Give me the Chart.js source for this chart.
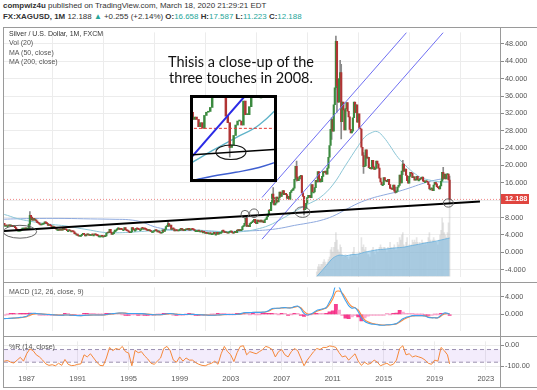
<!DOCTYPE html>
<html><head><meta charset="utf-8">
<script src="https://cdn.jsdelivr.net/npm/chart.js@4.4.1/dist/chart.umd.min.js"></script>
<style>
html,body{margin:0;padding:0;background:#fff;}
body{width:537px;height:390px;position:relative;overflow:hidden;font-family:"Liberation Sans",Arial,sans-serif;}
canvas{position:absolute;display:block;}
.t{position:absolute;white-space:nowrap;line-height:1;color:#333;font-size:7.95px;}
.ln{position:absolute;background:#9a9a9a;}
.g{color:#26a69a;}
.lg{position:absolute;font-size:7px;color:#555;white-space:nowrap;line-height:1;}
.note{position:absolute;font-family:Lato,"Liberation Sans",sans-serif;font-size:14.5px;color:#111;white-space:nowrap;line-height:1;text-align:center;width:200px;left:141px;}
</style></head><body>
<div class="t" style="left:3px;top:2px;"><b>compwiz4u</b> published on TradingView.com, March 18, 2020 21:29:21 EDT</div>
<div class="t" style="left:3px;top:13px;"><b>FX:XAGUSD, 1M</b> 12.188 <span class="g">▲</span> +0.255 (+2.14%) <b>O:</b><span class="g">16.658</span> <b>H:</b><span class="g">17.587</span> <b>L:</b><span class="g">11.223</span> <b>C:</b><span class="g">12.188</span></div>

<canvas id="main" width="533" height="255" style="left:4px;top:27px"></canvas>
<canvas id="macd" width="533" height="54" style="left:4px;top:282px"></canvas>
<canvas id="pr" width="533" height="52" style="left:4px;top:336px"></canvas>

<div class="ln" style="left:3px;top:27px;width:534px;height:1px"></div>
<div class="ln" style="left:3px;top:27px;width:1px;height:361px"></div>
<div class="ln" style="left:500px;top:27px;width:1px;height:361px"></div>
<div class="ln" style="left:3px;top:282px;width:534px;height:1px"></div>
<div class="ln" style="left:3px;top:336px;width:534px;height:1px"></div>
<div class="ln" style="left:3px;top:387px;width:534px;height:1px"></div>

<div class="lg" style="left:9px;top:30px;color:#333">Silver / U.S. Dollar, 1M, FXCM</div>
<div class="lg" style="left:9px;top:39px;">Vol (20)</div>
<div class="lg" style="left:9px;top:48.5px;">MA (50, close)</div>
<div class="lg" style="left:9px;top:58px;">MA (200, close)</div>
<div class="lg" style="left:9px;top:288px;">MACD (12, 26, close, 9)</div>
<div class="lg" style="left:9px;top:343px;">%R (14, close)</div>

<div class="note" style="top:55px;">Thisis a close-up of the</div>
<div class="note" style="top:71px;">three touches in 2008.</div>

<div style="position:absolute;left:190px;top:95px;width:81px;height:81px;border:3px solid #000;background:#fff;"></div>
<canvas id="inset" width="81" height="81" style="left:193px;top:98px"></canvas>

<script>
// ---------------- DATA ----------------
const START_YEAR = 1985;            // first monthly candle: Jan 1985
const closes = [
 6.2,5.9,6.7,6.2,6.2,6.1,6.1,6.3,6.1,6.2,6.0,5.9,
 6.0,5.7,5.3,5.1,5.1,5.1,5.1,5.3,5.6,5.6,5.6,5.4,
 5.5,5.5,6.5,8.5,8.1,7.4,7.8,7.4,7.5,7.2,6.8,6.7,
 6.5,6.3,6.4,6.5,6.6,7.0,6.7,6.6,6.2,6.3,6.2,6.0,
 5.8,5.9,5.7,5.7,5.3,5.3,5.3,5.1,5.2,5.1,5.5,5.2,
 5.3,5.2,5.0,5.0,5.1,4.9,4.9,4.8,4.7,4.3,4.2,4.2,
 3.9,3.7,3.9,3.9,4.1,4.4,4.1,3.8,4.1,4.0,4.1,3.9,
 4.1,4.1,4.0,4.0,4.1,4.0,3.9,3.8,3.8,3.8,3.8,3.7,
 3.7,3.6,3.8,4.4,4.6,4.5,5.3,4.6,4.1,4.3,4.7,5.1,
 5.1,5.4,5.6,5.3,5.5,5.3,5.2,5.2,5.7,5.2,5.0,4.9,
 4.7,4.5,4.7,5.7,5.4,5.1,5.1,5.5,5.4,5.3,5.2,5.2,
 5.6,5.5,5.5,5.4,5.3,5.1,5.0,5.2,4.9,4.8,4.8,4.8,
 4.9,5.2,5.0,4.7,4.8,4.6,4.4,4.5,5.2,4.8,5.3,5.9,
 6.1,6.6,6.0,6.3,5.3,5.5,5.4,4.9,5.1,5.0,4.9,5.0,
 5.3,5.5,5.1,5.3,5.0,5.2,5.3,5.2,5.5,5.1,5.2,5.4,
 5.3,5.2,5.0,5.0,5.0,5.0,4.9,4.9,4.9,4.7,4.7,4.6,
 4.6,4.4,4.3,4.4,4.4,4.3,4.3,4.3,4.6,4.2,4.2,4.6,
 4.2,4.4,4.6,4.6,5.0,4.9,4.6,4.5,4.6,4.4,4.6,4.7,
 4.9,4.6,4.4,4.6,4.7,4.5,5.1,5.0,5.1,5.0,5.2,5.9,
 6.1,6.7,7.8,6.0,6.1,5.9,6.6,6.8,7.0,7.3,7.6,6.8,
 6.6,7.4,7.1,7.0,7.4,7.0,7.2,6.8,7.5,7.6,8.2,8.8,
 9.7,9.6,11.5,13.4,12.6,10.9,11.3,12.7,11.6,12.5,13.9,12.9,
 13.5,14.2,13.3,13.6,13.3,12.4,12.9,12.2,13.8,14.2,14.3,14.8,
 16.8,19.8,17.3,16.5,16.9,17.5,17.7,13.7,12.9,9.8,10.1,11.3,
 12.6,13.1,13.1,12.6,15.6,13.9,13.9,14.9,16.6,16.2,18.6,16.9,
 16.2,16.3,17.5,18.6,18.4,18.7,18.0,19.4,21.9,24.6,28.3,30.6,
 27.9,34.0,37.9,48.6,38.4,34.6,40.0,41.4,30.1,34.6,32.8,28.2,
 33.1,34.5,32.5,31.2,28.3,27.5,27.9,31.0,34.6,32.2,34.0,30.0,
 31.9,28.6,28.4,24.2,22.3,19.7,19.9,23.6,21.7,21.9,19.5,19.5,
 19.2,21.2,19.7,19.1,19.3,21.0,20.4,19.4,17.1,16.2,15.6,15.6,
 17.2,16.6,16.6,16.3,16.8,15.6,14.7,14.6,14.5,15.5,14.1,13.8,
 14.1,15.0,15.4,17.8,16.0,18.7,20.3,18.7,19.2,17.7,16.5,15.9,
 17.5,18.4,18.2,17.2,17.4,16.6,16.7,17.5,16.7,16.7,17.0,16.9,
 17.3,16.4,16.3,16.3,16.4,16.2,15.6,14.6,14.6,14.7,14.2,15.5,
 16.1,15.8,15.1,14.9,14.6,15.3,16.4,18.4,17.0,18.0,16.9,17.9,
 18.0,16.658,12.188
];
const firstOpen = 6.0;
const wickMonths = ['1987-04','1998-02','2004-04','2006-05','2008-03','2008-10','2010-12','2011-04','2011-05','2011-08','2011-09','2013-06','2015-12','2016-07','2019-09','2020-03'];
const wickHighs  = [9.4, 7.3, 8.3, 14.9, 21.0, 12.5, 31.0, 49.8, 48.5, 44.2, 43.3, 23.0, 15.0, 21.2, 19.6, 17.587];
const wickLows   = [5.4, 5.9, 5.9, 11.1, 16.4, 8.6, 26.0, 37.5, 32.3, 38.5, 26.1, 18.2, 13.6, 17.9, 16.8, 11.223];

const ma50Years = [1985,1985.5,1986,1986.5,1987,1988,1989,1990,1991,1992,1993,1994,1995,1996,1997,1998,1999,2000,2001,2002,2003,2004,2005,2006,2007,2008,2009,2010,2011,2012,2013,2013.5,2014,2014.5,2015,2015.5,2016,2016.5,2017,2017.5,2018,2018.5,2019,2019.5,2020,2020.17];
const ma50Vals  = [8.9,8.5,8.0,7.6,7.3,6.8,6.4,6.1,5.6,5.1,4.6,4.5,4.6,4.8,5.0,5.1,5.1,5.2,5.0,4.8,4.7,4.8,5.3,6.2,7.7,9.4,11.0,12.6,15.5,20.0,24.5,26.5,27.5,27.8,26.5,24.5,22.3,20.6,19.2,18.0,17.1,16.7,16.4,16.2,16.2,16.1];
const ma200Years = [1985,1986,1988,1990,1992,1994,1995,1996,1997,1998,1999,2000,2001,2002,2003,2004,2005,2006,2007,2008,2009,2010,2011,2012,2013,2014,2015,2016,2017,2018,2019,2020,2020.17];
const ma200Vals  = [7.6,7.7,7.8,7.8,7.7,7.6,7.5,7.0,5.9,5.3,5.0,5.0,4.9,4.8,4.8,4.9,5.0,5.2,5.6,6.2,6.7,7.3,8.3,9.8,11.3,12.4,13.2,13.9,14.8,15.8,16.6,17.1,17.2];

const volStart = 2009.75;  // Oct 2009
const volumes = [
 2,4,5,
 4,5,5,6,7,6,5,6,7,8,11,12,
 10,12,14,18,15,11,10,13,12,9,8,8,
 9,8,8,7,8,9,8,10,12,9,9,8,
 9,10,9,16,12,13,11,12,10,9,9,8,
 10,11,12,10,9,11,10,10,12,13,12,11,
 12,12,11,10,12,11,14,12,11,12,13,11,
 11,14,13,16,15,17,18,13,12,14,16,12,
 13,12,13,15,14,15,14,16,14,13,14,13,
 15,14,13,14,13,14,16,18,15,14,15,16,
 15,14,14,13,15,17,19,24,22,18,17,16,
 18,22,30
];
const volMaYears = [2009.75,2010,2010.5,2011,2011.5,2012,2012.5,2013,2013.5,2014,2014.5,2015,2015.5,2016,2016.5,2017,2017.5,2018,2018.5,2019,2019.5,2020,2020.17];
const volMaVals  = [0,1.5,4.5,7.5,8.8,8.5,9.0,9.2,10.0,10.5,11.0,11.2,11.5,11.8,12.0,12.5,13.0,13.5,14.0,14.4,15.0,15.6,15.8];

// quarterly indicator readings (1985.00 ... 2020.00 every quarter, then Mar 2020)
const macdVals = [
 -1.0,-1.0,-0.95,-0.9, -0.85,-0.8,-0.7,-0.6, -0.45,0.05,0.25,0.2, 0.1,0.05,0.0,-0.05,
 -0.1,-0.15,-0.2,-0.2, -0.15,-0.15,-0.2,-0.25, -0.3,-0.3,-0.25,-0.2, -0.15,-0.15,-0.15,-0.15,
 -0.15,-0.05,0.1,0.15, 0.25,0.3,0.3,0.25, 0.15,0.2,0.2,0.15, 0.15,0.1,0.0,-0.05,
 -0.1,-0.1,-0.1,0.0, 0.15,0.2,0.1,0.0, -0.05,-0.05,-0.05,0.0, -0.02,-0.05,-0.1,-0.12,
 -0.15,-0.2,-0.2,-0.2, -0.15,-0.1,-0.05,-0.05, -0.05,-0.05,0.0,0.1, 0.35,0.4,0.4,0.45,
 0.45,0.45,0.5,0.6, 0.9,1.35,1.4,1.4, 1.5,1.55,1.45,1.5, 1.8,1.9,1.3,0.2,
 -0.15,0.0,0.4,0.9, 1.1,1.3,1.6,2.9, 4.3,6.8,6.3,4.6, 3.2,2.0,1.4,1.5,
 0.6,-0.8,-1.6,-2.0, -2.2,-2.3,-2.4,-2.5, -2.5,-2.4,-2.4,-2.3, -2.1,-1.6,-1.0,-0.7,
 -0.5,-0.3,-0.3,-0.3, -0.3,-0.4,-0.7,-0.8, -0.8,-0.8,-0.2,0.3, 0.25,0.0
];
const signalVals = [
 -0.9,-0.95,-0.95,-0.92, -0.88,-0.83,-0.76,-0.67, -0.55,-0.25,0.05,0.15, 0.13,0.08,0.03,-0.02,
 -0.07,-0.12,-0.17,-0.19, -0.17,-0.16,-0.18,-0.22, -0.27,-0.29,-0.27,-0.23, -0.18,-0.16,-0.15,-0.15,
 -0.15,-0.1,0.02,0.1, 0.2,0.27,0.3,0.27, 0.2,0.2,0.2,0.17, 0.16,0.12,0.04,-0.02,
 -0.07,-0.1,-0.1,-0.04, 0.08,0.16,0.13,0.04, -0.02,-0.04,-0.05,-0.02, -0.02,-0.04,-0.08,-0.1,
 -0.13,-0.18,-0.2,-0.2, -0.17,-0.12,-0.07,-0.05, -0.05,-0.05,-0.02,0.05, 0.25,0.36,0.4,0.43,
 0.45,0.45,0.48,0.55, 0.75,1.15,1.35,1.4, 1.45,1.52,1.5,1.5, 1.65,1.8,1.5,0.7,
 0.15,0.0,0.25,0.7, 0.95,1.2,1.45,2.3, 3.5,5.2,5.35,4.9, 3.8,2.6,1.8,1.5,
 1.0,-0.2,-1.2,-1.7, -2.0,-2.2,-2.3,-2.4, -2.45,-2.45,-2.4,-2.35, -2.2,-1.8,-1.3,-0.9,
 -0.6,-0.4,-0.3,-0.3, -0.3,-0.35,-0.6,-0.75, -0.8,-0.8,-0.4,0.1, 0.2,0.1
];
const histVals = [
 -0.1,-0.05,0,0.02, 0.03,0.03,0.06,0.07, 0.1,0.3,0.2,0.05, -0.03,-0.03,-0.03,-0.03,
 -0.03,-0.03,-0.03,-0.01, 0.02,0.01,-0.02,-0.03, -0.03,-0.01,0.02,0.03, 0.03,0.01,0,0,
 0,0.05,0.08,0.05, 0.05,0.03,0,-0.02, -0.05,0,0,-0.02, -0.01,-0.02,-0.04,-0.03,
 -0.03,0,0,0.04, 0.07,0.04,-0.03,-0.04, -0.03,-0.01,0,0.02, 0,-0.01,-0.02,-0.02,
 -0.02,-0.02,0,0, 0.02,0.02,0.02,0, 0,0,0.02,0.05, 0.1,0.04,0,0.02,
 0,0,0.02,0.05, 0.15,0.2,0.05,0, 0.05,0.03,-0.05,0, 0.15,0.1,-0.2,-0.5,
 -0.3,0,0.15,0.2, 0.15,0.1,0.15,0.6, 0.8,2.3,1.0,-0.3, -0.9,-1.0,-0.6,-0.3,
 -0.6,-1.5,-0.8,-0.4, -0.2,-0.1,-0.1,-0.1, -0.05,0.05,0,0.05, 0.3,0.9,0.5,0.2,
 0.1,0.1,0,0, 0,-0.05,-0.1,-0.05, 0,0,0.2,0.2, 0.05,-0.1
];
const pctRVals = [
 -68,-75,-72,-80, -84,-70,-57,-75, -40,-17,-25,-45, -55,-70,-88,-95,
 -92,-97,-85,-95, -67,-90,-96,-95, -90,-88,-45,-55, -40,-60,-80,-95,
 -97,-60,-10,-25, -15,-20,-5,-30, -37,-97,-24,-35, -30,-50,-65,-85,
 -90,-75,-60,-15, -5,-25,-70,-80, -55,-75,-60,-70, -70,-82,-90,-95,
 -97,-90,-85,-75, -90,-40,-5,-30, -45,-77,-35,-5, -2,-45,-30,-35,
 -40,-30,-20,-5, -10,-20,-55,-30, -20,-45,-55,-30, -15,-25,-60,-97,
 -70,-50,-30,-15, -20,-10,-10,-3, -5,-10,-35,-55, -50,-70,-55,-40,
 -75,-95,-80,-90, -85,-70,-80,-97, -90,-85,-95,-90, -70,-15,-2,-45,
 -40,-55,-50,-55, -60,-70,-85,-90, -70,-75,-10,-25, -45,-88
];

const lastPrice = 12.188;
const trendX = [1985.22, 2022.55], trendY = [4.9, 11.7];
const chan1X = [2005.455, 2016.80], chan1Y = [12.63, 50.66];
const chan2X = [2005.455, 2019.68], chan2Y = [3.02, 50.66];
const yearTicks  = [1987,1991,1995,1999,2003,2007,2011,2015,2019,2023];
const priceTicks = [-4,0,4,8,12,16,20,24,28,32,36,40,44,48];
const macdTicks  = [0,4];
const pctRTicks  = [0,-100];
const pctRBands  = [-20,-80];
// hand-drawn ellipses (data units)
const mainCircles = [
 {x:1986.47,y:4.74,rx:1.31,ry:1.48},
 {x:2004.12,y:8.78,rx:0.31,ry:0.88},
 {x:2004.83,y:9.0,rx:0.35,ry:0.99},
 {x:2008.63,y:9.26,rx:0.59,ry:1.21},
 {x:2020.07,y:11.36,rx:0.39,ry:0.95}
];
const insetCircles = [{x:2008.8,y:9.2,rx:0.64,ry:0.91}];

// ---------------- BUILD ----------------
const X_MIN = 1985.22, X_MAX = 2024.12;
const FONT = '"Liberation Sans", Arial, sans-serif';
const GRID = '#ececec';
const UP = '#3b8a3f', DOWN = '#b03434';

const monthX = i => START_YEAR + i / 12;
const quarterX = i => (i < 141 ? 1985 + i * 0.25 : 2020.17);
const pts = (xs, ys) => xs.map((x, i) => ({x, y: ys[i]}));

const bodies = closes.map((c, i) => ({x: monthX(i), y: [i ? closes[i-1] : firstOpen, c]}));
const bodyColors = closes.map((c, i) => c >= (i ? closes[i-1] : firstOpen) ? UP : DOWN);
const wicks = wickMonths.map((m, i) => {
  const [yy, mm] = m.split('-').map(Number);
  return {x: yy + (mm - 1) / 12, y: [wickLows[i], wickHighs[i]]};
});
const volBars = volumes.map((v, i) => ({x: volStart + i / 12, y: v}));

function priceDatasets(s) {
  return [
    {type:'line', data: pts(trendX, trendY), borderColor:'#000', borderWidth:2*s.lw, pointRadius:0, order:1},
    {type:'line', data: pts(chan1X, chan1Y), borderColor: s.chan, borderWidth:s.chw, pointRadius:0, order:2},
    {type:'line', data: pts(chan2X, chan2Y), borderColor: s.chan, borderWidth:s.chw, pointRadius:0, order:2},
    {type:'line', data: [{x:X_MIN,y:lastPrice},{x:X_MAX,y:lastPrice}], borderColor: s.red, borderWidth:1, borderDash:s.dash, pointRadius:0, order:3},
    {type:'bar', data: bodies, backgroundColor: bodyColors, barThickness: s.bt, minBarLength: 1, grouped:false, order:4},
    {type:'bar', data: wicks, backgroundColor: '#8a8a8a', barThickness: s.wt, grouped:false, order:5},
    {type:'line', data: pts(ma50Years, ma50Vals), borderColor: s.ma50, borderWidth: s.mw, pointRadius:0, tension:0.4, order:6},
    {type:'line', data: pts(ma200Years, ma200Vals), borderColor: s.ma200, borderWidth: s.mw, pointRadius:0, tension:0.4, order:7}
  ];
}

const ellipsePlugin = {
  id: 'ellipses',
  afterDatasetsDraw(chart, args, opts) {
    const {ctx, scales} = chart; const x = scales.x, y = scales.y;
    ctx.save(); ctx.strokeStyle = opts.color; ctx.lineWidth = opts.width;
    for (const e of opts.items) {
      const cx = x.getPixelForValue(e.x), cy = y.getPixelForValue(e.y);
      const rx = Math.abs(x.getPixelForValue(e.x + e.rx) - cx);
      const ry = Math.abs(y.getPixelForValue(e.y + e.ry) - cy);
      ctx.beginPath(); ctx.ellipse(cx, cy, rx, ry, 0, 0, Math.PI * 2); ctx.stroke();
    }
    ctx.restore();
  }
};
const priceLabelPlugin = {
  id: 'priceLabel',
  afterDraw(chart) {
    const {ctx, scales:{y}, chartArea} = chart;
    const py = y.getPixelForValue(lastPrice);
    ctx.save();
    ctx.fillStyle = '#e0453f';
    ctx.fillRect(chartArea.right, Math.round(py) - 5, 29, 10);
    ctx.fillStyle = '#fff'; ctx.font = 'bold 7.3px ' + FONT;
    ctx.textBaseline = 'middle'; ctx.textAlign = 'left';
    ctx.fillText(lastPrice.toFixed(3), chartArea.right + 5, Math.round(py));
    ctx.restore();
  }
};

function xScale(showLabels) {
  return {
    type:'linear', min:X_MIN, max:X_MAX, offset:false,
    afterBuildTicks: s => { s.ticks = yearTicks.map(v => ({value:v})); },
    grid:{color:GRID, drawTicks:false},
    border:{display:false},
    ticks: showLabels ? {display:true, padding:4, color:'#555', maxRotation:0, autoSkip:false,
      font:{size:7.5, family:FONT}, callback: v => String(v)} : {display:false},
    afterFit: s => { s.height = showLabels ? 18 : 0; }
  };
}
function yScale(min, max, ticks, fmt) {
  return {
    type:'linear', position:'right', min, max,
    afterBuildTicks: s => { s.ticks = ticks.map(v => ({value:v})); },
    grid:{color:GRID, drawTicks:true, tickLength:4, tickColor:'#8a8a8a'},
    border:{display:false},
    ticks:{padding:1, color:'#555', font:{size:7.3, family:FONT}, callback: fmt},
    afterFit: s => { s.width = 37; }
  };
}
const common = {
  responsive:false, animation:false, events:[],
  layout:{padding:0, autoPadding:false},
};

// main price pane
new Chart(document.getElementById('main'), {
  type:'line',
  data:{datasets:[
    ...priceDatasets({lw:1, chan:'#6f6ff2', chw:1, red:'#f08a8a', dash:[1,2], bt:1.5, wt:1, ma50:'#8cc6d6', ma200:'#8ea9de', mw:1}),
    {type:'line', yAxisID:'yVol', data: pts(volMaYears, volMaVals), borderColor:'rgba(110,178,222,0.9)', borderWidth:1,
      backgroundColor:'rgba(125,188,228,0.55)', fill:'origin', pointRadius:0, tension:0.3, order:9},
    {type:'bar', yAxisID:'yVol', data: volBars, backgroundColor:'rgba(180,180,180,0.35)', barThickness:1, grouped:false, order:10}
  ]},
  options:{...common,
    scales:{
      x: xScale(false),
      y: yScale(-5.6, 50.66, priceTicks, v => v.toFixed(3)),
      yVol:{type:'linear', display:false, min:0, max:100}
    },
    plugins:{legend:{display:false}, tooltip:{enabled:false},
      ellipses:{items:mainCircles, color:'#555', width:0.9}}
  },
  plugins:[ellipsePlugin, priceLabelPlugin]
});

// MACD pane
new Chart(document.getElementById('macd'), {
  type:'line',
  data:{datasets:[
    {type:'line', data: macdVals.map((v,i)=>({x:quarterX(i), y:v})), borderColor:'#3fa2ef', borderWidth:1.1, pointRadius:0, tension:0.3, order:1},
    {type:'line', data: signalVals.map((v,i)=>({x:quarterX(i), y:v})), borderColor:'#ff8a3a', borderWidth:1.1, pointRadius:0, tension:0.3, order:2},
    {type:'bar', data: histVals.map((v,i)=>({x:quarterX(i), y:v})),
      backgroundColor: histVals.map((v,i)=> Math.abs(v) > Math.abs(i ? histVals[i-1] : 0) ? 'rgba(245,30,125,0.85)' : 'rgba(250,150,195,0.8)'),
      barThickness:3.2, minBarLength:1, grouped:false, order:3}
  ]},
  options:{...common,
    scales:{ x: xScale(false), y: yScale(-3.75, 6.2, macdTicks, v => v.toFixed(3)) },
    plugins:{legend:{display:false}, tooltip:{enabled:false}}
  }
});

// %R pane
new Chart(document.getElementById('pr'), {
  type:'line',
  data:{datasets:[
    {type:'line', data: pctRVals.map((v,i)=>({x:quarterX(i), y:v})), borderColor:'#f5883a', borderWidth:1, pointRadius:0, tension:0, order:1},
    {type:'line', data:[{x:X_MIN,y:pctRBands[0]},{x:X_MAX,y:pctRBands[0]}], borderColor:'#9a90ad', borderWidth:1, borderDash:[4,3], pointRadius:0, fill:false, order:3},
    {type:'line', data:[{x:X_MIN,y:pctRBands[1]},{x:X_MAX,y:pctRBands[1]}], borderColor:'#9a90ad', borderWidth:1, borderDash:[4,3], pointRadius:0,
      fill:'-1', backgroundColor:'rgba(160,110,235,0.13)', order:2}
  ]},
  options:{...common,
    scales:{ x: xScale(true), y: yScale(-117, 18.8, pctRTicks, v => v.toFixed(2)) },
    plugins:{legend:{display:false}, tooltip:{enabled:false}, filler:{propagate:false}}
  }
});

// inset: close-up of the 2008 touches (same data, magnified window)
new Chart(document.getElementById('inset'), {
  type:'line',
  data:{datasets: priceDatasets({lw:0.75, chan:'#2a2ae6', chw:2, red:'#e53935', dash:[3,2], bt:1.8, wt:1, ma50:'#5fb3c9', ma200:'#3f5fd0', mw:1.4})},
  options:{...common,
    scales:{
      x:{type:'linear', display:false, min:2007.18, max:2010.64, offset:false},
      y:{type:'linear', display:false, min:5.86, max:15.98}
    },
    plugins:{legend:{display:false}, tooltip:{enabled:false},
      ellipses:{items:insetCircles, color:'#111', width:1.1}}
  },
  plugins:[ellipsePlugin]
});
</script>
</body></html>
